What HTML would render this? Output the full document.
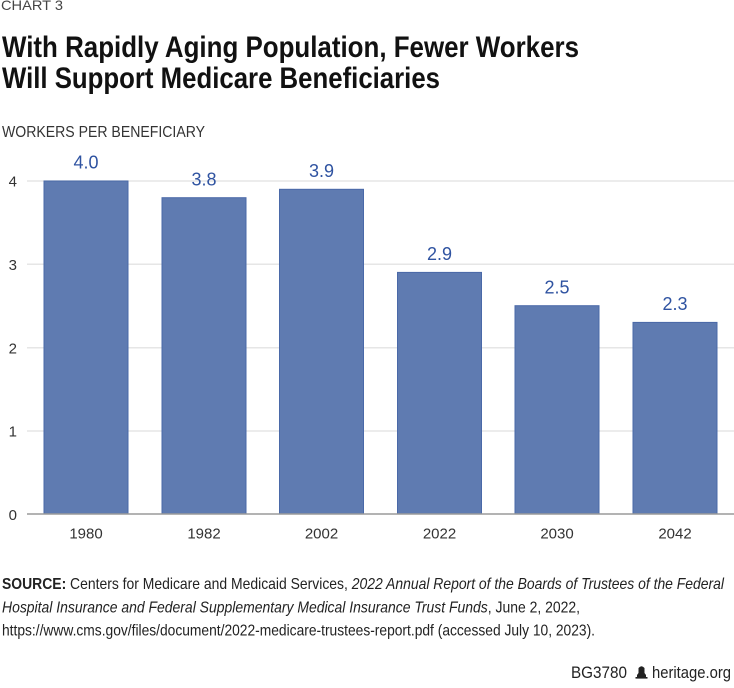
<!DOCTYPE html>
<html>
<head>
<meta charset="utf-8">
<style>
  html, body { margin: 0; padding: 0; background: #ffffff; }
  body { width: 734px; height: 688px; overflow: hidden; }
  svg { display: block; }
  text { font-family: "Liberation Sans", "DejaVu Sans", sans-serif; }
</style>
</head>
<body>
<svg width="734" height="688" viewBox="0 0 734 688" xmlns="http://www.w3.org/2000/svg">
  <rect x="0" y="0" width="734" height="688" fill="#ffffff"/>

  <!-- Header -->
  <text x="1" y="10" font-size="14" fill="#444" textLength="62" lengthAdjust="spacingAndGlyphs">CHART 3</text>
  <text x="2" y="57" font-size="29.5" font-weight="bold" fill="#111" textLength="577" lengthAdjust="spacingAndGlyphs">With Rapidly Aging Population, Fewer Workers</text>
  <text x="2" y="88" font-size="29.5" font-weight="bold" fill="#111" textLength="438" lengthAdjust="spacingAndGlyphs">Will Support Medicare Beneficiaries</text>

  <text x="2" y="137" font-size="15.5" fill="#333" textLength="203" lengthAdjust="spacingAndGlyphs">WORKERS PER BENEFICIARY</text>

  <!-- Gridlines -->
  <g stroke="#e6e6e6" stroke-width="1.5">
    <line x1="27" y1="181" x2="734" y2="181"/>
    <line x1="27" y1="264.3" x2="734" y2="264.3"/>
    <line x1="27" y1="347.7" x2="734" y2="347.7"/>
    <line x1="27" y1="431" x2="734" y2="431"/>
  </g>

  <!-- Y tick labels -->
  <g font-size="15" fill="#333" text-anchor="end">
    <text x="17" y="186.5">4</text>
    <text x="17" y="270">3</text>
    <text x="17" y="353.5">2</text>
    <text x="17" y="436.5">1</text>
    <text x="17" y="520">0</text>
  </g>

  <!-- Bars -->
  <g fill="#5f7bb1" stroke="#4a69a8" stroke-width="1">
    <rect x="44" y="181" width="84" height="333"/>
    <rect x="162" y="197.7" width="84" height="316.3"/>
    <rect x="279.5" y="189.3" width="84" height="324.7"/>
    <rect x="397.5" y="272.4" width="84" height="241.6"/>
    <rect x="515" y="305.7" width="84" height="208.3"/>
    <rect x="633" y="322.4" width="84" height="191.6"/>
  </g>

  <!-- Baseline -->
  <line x1="27" y1="514" x2="734" y2="514" stroke="#9a9a9a" stroke-width="1.5"/>

  <!-- Value labels -->
  <g font-size="18" fill="#2f53a1" text-anchor="middle">
    <text x="86" y="168.5">4.0</text>
    <text x="204" y="185.5">3.8</text>
    <text x="321.5" y="177">3.9</text>
    <text x="439.5" y="260">2.9</text>
    <text x="557" y="293.5">2.5</text>
    <text x="675" y="310">2.3</text>
  </g>

  <!-- X labels -->
  <g font-size="15" fill="#333" text-anchor="middle">
    <text x="86" y="538.5">1980</text>
    <text x="204" y="538.5">1982</text>
    <text x="321.5" y="538.5">2002</text>
    <text x="439.5" y="538.5">2022</text>
    <text x="557" y="538.5">2030</text>
    <text x="675" y="538.5">2042</text>
  </g>

  <!-- Source -->
  <g font-size="16" fill="#222">
    <text x="2" y="589" textLength="722" lengthAdjust="spacingAndGlyphs"><tspan font-weight="bold">SOURCE:</tspan> Centers for Medicare and Medicaid Services, <tspan font-style="italic">2022 Annual Report of the Boards of Trustees of the Federal</tspan></text>
    <text x="2" y="612.5" textLength="578" lengthAdjust="spacingAndGlyphs"><tspan font-style="italic">Hospital Insurance and Federal Supplementary Medical Insurance Trust Funds</tspan>, June 2, 2022,</text>
    <text x="2" y="635.5" textLength="593" lengthAdjust="spacingAndGlyphs">https://www.cms.gov/files/document/2022-medicare-trustees-report.pdf (accessed July 10, 2023).</text>
  </g>

  <!-- Footer -->
  <text x="571" y="678" font-size="17" fill="#222" textLength="56" lengthAdjust="spacingAndGlyphs">BG3780</text>
  <g fill="#222">
    <path d="M637 677 L637 675 L638.5 673 L638.5 668 Q641.5 664.5 644.5 668 L644.5 673 L646 675 L646 677 Z"/>
    <rect x="635.5" y="677" width="12" height="1.6"/>
  </g>
  <text x="652" y="678" font-size="17" fill="#222" textLength="79" lengthAdjust="spacingAndGlyphs">heritage.org</text>
</svg>
</body>
</html>
